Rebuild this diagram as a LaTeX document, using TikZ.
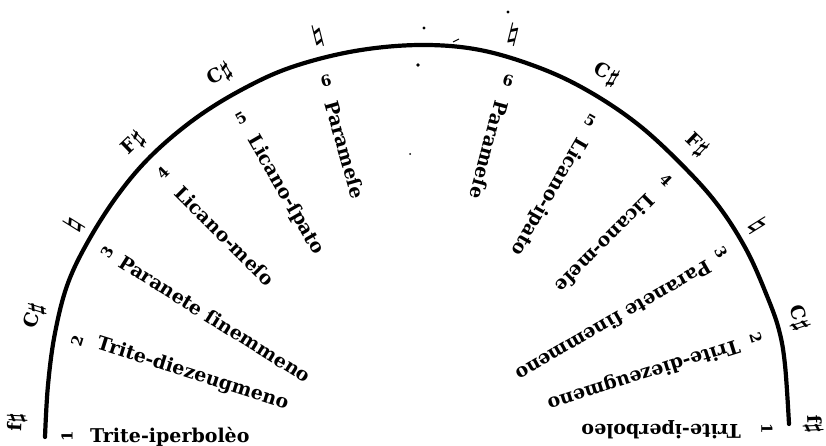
\documentclass[tikz,border=0pt]{standalone}
\usepackage{fontspec}
\setmainfont{DejaVu Serif}
\newcommand\shp{\raisebox{-0.1ex}{\scalebox{1.3}{$\sharp$}}}
\newcommand\nat{\scalebox{1.4}{$\natural$}}

\begin{document}
\begin{tikzpicture}[x=1pt,y=-1pt,
        lab/.style={font=\bfseries\fontsize{19}{19}\selectfont,inner sep=0pt,anchor=west},
        num/.style={font=\bfseries\fontsize{15}{15}\selectfont,inner sep=0pt},
        key/.style={font=\bfseries\boldmath\fontsize{19}{19}\selectfont,inner sep=0pt}]
        \useasboundingbox (0,0) rectangle (826,446);
        % the arc
        \draw[line width=4.2pt,line cap=round] plot[smooth,tension=0.6] coordinates {
          (45,437) (48,385) (55,333) (68,283) (90,238) (120,192) (153,154) (196,118)
          (243,89) (292,67) (355,51) (420,45) (480,50) (540,68) (590,92) (640,126)
          (687,170) (720,208) (747,251) (767,296) (779,330) (785,365) (789,424)};
        % left side
        \node[num,rotate=90] (n1) at (67,436) {1};
        \node[num,rotate=73] (n2) at (77,341) {2};
        \node[num,rotate=58] (n3) at (107,252) {3};
        \node[num,rotate=45] (n4) at (163,173) {4};
        \node[num,rotate=30] (n5) at (241,118) {5};
        \node[num,rotate=15] (n6) at (326,81) {6};
        \node[lab] (t1) at (90,437) {Trite-iperbolèo};
        \node[lab,rotate=-17.5] (t2) at (97,344) {Trite-diezeugmeno};
        \node[lab,rotate=-32] (t3) at (121,260) {Paranete ſinemmeno};
        \node[lab,rotate=-45] (t4) at (178,189) {Licano-meſo};
        \node[lab,rotate=-60] (t5) at (252,137) {Licano-ſpato};
        \node[lab,rotate=-74] (t6) at (331,101) {Parameſe};
        \node[key,rotate=87.5] (k1) at (17,422) {f\shp};
        \node[key,rotate=72.5] (k2) at (35,316) {C\shp};
        \node[key,rotate=58] (k3) at (74,225) {\nat};
        \node[key,rotate=44] (k4) at (134,144) {F\shp};
        \node[key,rotate=29] (k5) at (220,75) {C\shp};
        \node[key,rotate=14] (k6) at (318,36) {\nat};
        % right side
        \node[num,rotate=-15] (m6) at (508,81) {6};
        \node[num,rotate=-30] (m5) at (590,120) {5};
        \node[num,rotate=-45] (m4) at (666,180) {4};
        \node[num,rotate=-60] (m3) at (721,252) {3};
        \node[num,rotate=-73] (m2) at (756,338) {2};
        \node[num,rotate=-90] (m1) at (767,429) {1};
        \node[lab,rotate=255] (s6) at (502,101) {Parameſe};
        \node[lab,rotate=240] (s5) at (582,139) {Licano-ipato};
        \node[lab,rotate=225] (s4) at (652,197) {Licano-meſe};
        \node[lab,rotate=210] (s3) at (710,266) {Paranete ſinemmeno};
        \node[lab,rotate=197.5] (s2) at (739,344) {Trite-diezeugmeno};
        \node[lab,rotate=180] (s1) at (741,430) {Trite-iperboleo};
        \node[key,rotate=-14] (j6) at (513,35) {\nat};
        \node[key,rotate=-29] (j5) at (606,75) {C\shp};
        \node[key,rotate=-44] (j4) at (696,145) {F\shp};
        \node[key,rotate=-58] (j3) at (757,226) {\nat};
        \node[key,rotate=-72.5] (j2) at (798,318) {C\shp};
        \node[key,rotate=-87.5] (j1) at (813,424) {f\shp};
        % stray marks
        \fill (424,28) circle (1.6pt) (418,65) circle (1.8pt) (410,154) circle (1pt) (508,12) circle (1.6pt);
        \draw[line width=1pt] (453,42) -- (459,39);
      \end{tikzpicture}
\end{document}
